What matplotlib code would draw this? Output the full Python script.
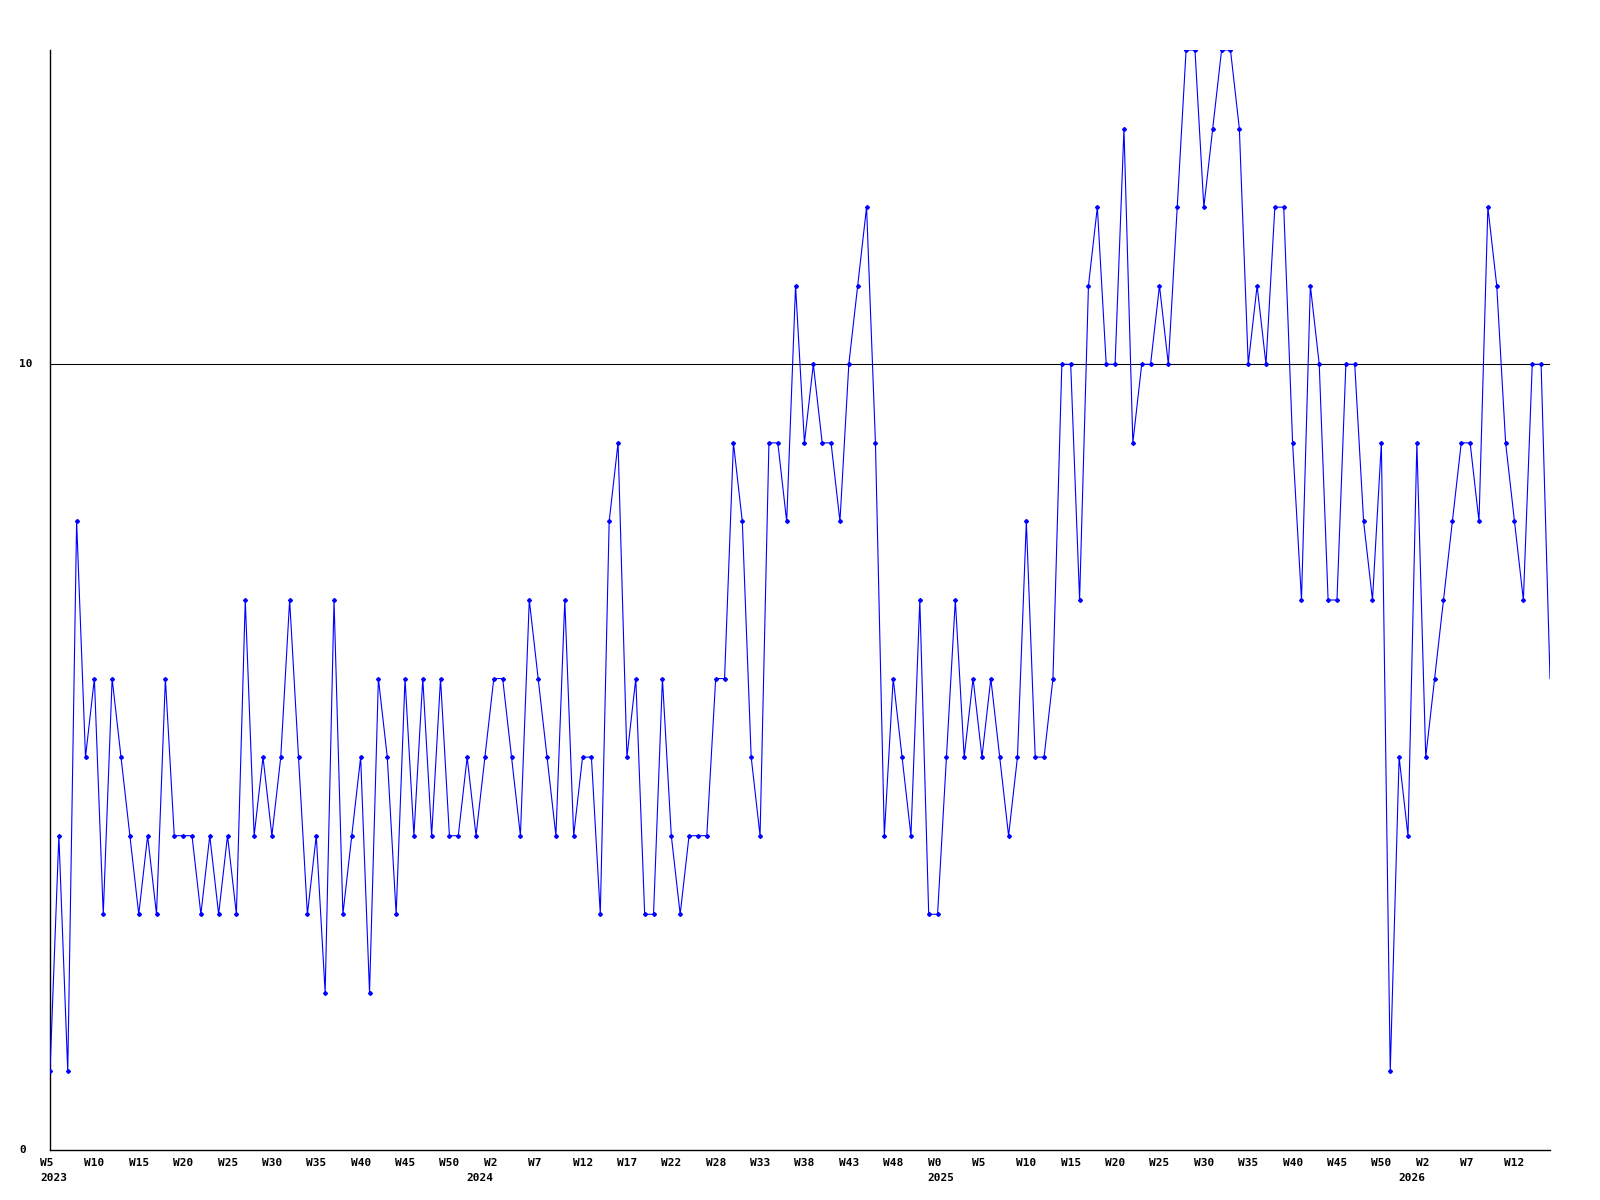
import matplotlib
matplotlib.use("Agg")
import matplotlib.pyplot as plt
import matplotlib.transforms as mtransforms
import numpy as np

# weekly counts, 2023 W5 .. 2026 (last value = current, unfinished week)
values = [
    1, 4, 1, 8, 5, 6, 3, 6, 5, 4, 3, 4, 3, 6, 4, 4, 4, 3, 4, 3, 4, 3,
    7, 4, 5, 4, 5, 7, 5, 3, 4, 2, 7, 3, 4, 5, 2, 6, 5, 3, 6, 4, 6, 4,
    6, 4, 4, 5, 4, 5, 6, 6, 5, 4, 7, 6, 5, 4, 7, 4, 5, 5, 3, 8, 9,
    5, 6, 3, 3, 6, 4, 3, 4, 4, 4, 6, 6, 9, 8, 5, 4, 9, 9, 8, 11, 9,
    10, 9, 9, 8, 10, 11, 12, 9, 4, 6, 5, 4, 7, 3, 3, 5, 7, 5, 6, 5, 6, 5,
    4, 5, 8, 5, 5, 6, 10, 10, 7, 11, 12, 10, 10, 13, 9, 10, 10, 11, 10, 12, 14,
    14, 12, 13, 14, 14, 13, 10, 11, 10, 12, 12, 9, 7, 11, 10, 7, 7, 10, 10, 8, 7, 9,
    1, 5, 4, 9, 5, 6, 7, 8, 9, 9, 8, 12, 11, 9, 8, 7, 10, 10,
    6,
]

week_labels = ["W5", "W10", "W15", "W20", "W25", "W30", "W35", "W40", "W45", "W50",
               "W2", "W7", "W12", "W17", "W22", "W28", "W33", "W38", "W43", "W48",
               "W0", "W5", "W10", "W15", "W20", "W25", "W30", "W35", "W40", "W45",
               "W50", "W2", "W7", "W12"]
week_pos = list(range(0, 5 * len(week_labels), 5))

year_labels = ["2023", "2024", "2025", "2026"]
year_pos = [0, 48, 100, 153]

y_labels = ["0", "10"]
y_pos = [0, 10]

x = np.arange(len(values))

fig = plt.figure(figsize=(16, 12), dpi=100)
ax = fig.add_axes([50 / 1600, 50 / 1200, 1500 / 1600, 1100 / 1200])

ax.axhline(10, color="black", linewidth=0.75, zorder=1)
# last week is still running: line only, no marker
ax.plot(x, values, color="#0000ff", linewidth=0.8, marker="D", markersize=2.0,
        markevery=list(range(len(values) - 1)), zorder=3)

ax.set_xlim(0, len(values) - 1)
ax.set_ylim(0, 14)
for s in ("top", "right"):
    ax.spines[s].set_visible(False)
for s in ("left", "bottom"):
    ax.spines[s].set_linewidth(1.0)
ax.set_xticks([])
ax.set_yticks([])

font = dict(family="DejaVu Sans Mono", fontweight="bold", fontsize=8, color="black")

# x labels: left edge 10 px before the tick position
shift = mtransforms.ScaledTranslation(-10 / 100, 0, fig.dpi_scale_trans)
xtrans = mtransforms.blended_transform_factory(ax.transData, fig.transFigure) + shift
for p, lab in zip(week_pos, week_labels):
    ax.text(p, 1 - 1163 / 1200, lab, transform=xtrans, ha="left", va="center",
            clip_on=False, **font)
for p, lab in zip(year_pos, year_labels):
    ax.text(p, 1 - 1178 / 1200, lab, transform=xtrans, ha="left", va="center",
            clip_on=False, **font)

ytrans = mtransforms.blended_transform_factory(fig.transFigure, ax.transData)
for p, lab in zip(y_pos, y_labels):
    ax.text(19 / 1600, p, lab, transform=ytrans, ha="left", va="center",
            clip_on=False, **font)

fig.savefig("out.png", dpi=100)
